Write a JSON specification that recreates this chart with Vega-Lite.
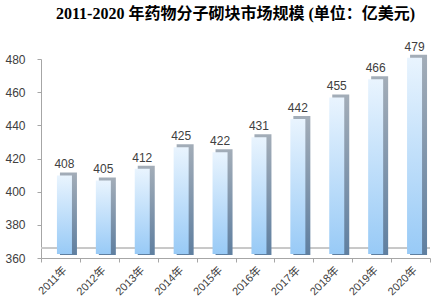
{
  "$schema": "https://vega.github.io/schema/vega-lite/v6.json",
  "width": 389,
  "height": 199,
  "autosize": {"type": "none"},
  "padding": {"left": 41, "top": 59, "right": 17, "bottom": 46},
  "background": "white",
  "title": {
    "text": "2011-2020 年药物分子砌块市场规模 (单位：亿美元)",
    "font": "Liberation Serif, Noto Sans CJK SC",
    "fontSize": 16,
    "fontWeight": "bold",
    "color": "#000000",
    "anchor": "middle",
    "frame": "group",
    "offset": 19
  },
  "config": {
    "view": {"stroke": null},
    "axis": {
      "labelFont": "Liberation Sans, Noto Sans CJK SC",
      "labelFontSize": 11,
      "labelColor": "#404040",
      "domainColor": "#a6a6a6",
      "tickColor": "#a6a6a6",
      "grid": false,
      "title": null
    }
  },
  "data": {
    "values": [
      {"year": "2011年", "value": 408},
      {"year": "2012年", "value": 405},
      {"year": "2013年", "value": 412},
      {"year": "2014年", "value": 425},
      {"year": "2015年", "value": 422},
      {"year": "2016年", "value": 431},
      {"year": "2017年", "value": 442},
      {"year": "2018年", "value": 455},
      {"year": "2019年", "value": 466},
      {"year": "2020年", "value": 479}
    ]
  },
  "layer": [
    {
      "mark": {"type": "rule", "yOffset": -10, "color": "#c8c8c8", "strokeWidth": 1},
      "encoding": {
        "y": {"datum": 360, "type": "quantitative",
          "scale": {"domain": [360, 480], "nice": false, "zero": false},
          "axis": {"values": [360, 380, 400, 420, 440, 460, 480], "labelOverlap": false, "tickSize": 4, "labelPadding": 12, "labelFontSize": 12}}
      }
    },
    {
      "mark": {
        "type": "bar",
        "width": 17,
        "xOffset": 8,
        "yOffset": -6,
        "y2Offset": -3,
        "color": {"gradient": "linear", "x1": 0, "y1": 0, "x2": 0, "y2": 1,
          "stops": [{"offset": 0, "color": "#a3adb8"}, {"offset": 1, "color": "#5f7fa0"}]}
      },
      "encoding": {
        "x": {
          "field": "year",
          "type": "nominal",
          "sort": null,
          "scale": {"paddingInner": 0, "paddingOuter": 0},
          "axis": {"labelAngle": -45, "tickBand": "extent", "tickSize": 4, "labelPadding": 2, "labelFontSize": 11}
        },
        "y": {"field": "value", "type": "quantitative",
          "scale": {"domain": [360, 480], "nice": false, "zero": false},
          "axis": {"values": [360, 380, 400, 420, 440, 460, 480], "labelOverlap": false, "tickSize": 4, "labelPadding": 12, "labelFontSize": 12}},
        "y2": {"datum": 360}
      }
    },
    {
      "mark": {
        "type": "bar",
        "width": 15,
        "xOffset": 4,
        "yOffset": -3,
        "y2Offset": -4,
        "color": {"gradient": "linear", "x1": 0, "y1": 0, "x2": 0, "y2": 1,
          "stops": [{"offset": 0, "color": "#e9f4fe"}, {"offset": 1, "color": "#98caf6"}]}
      },
      "encoding": {
        "x": {"field": "year", "type": "nominal", "sort": null},
        "y": {"field": "value", "type": "quantitative",
          "scale": {"domain": [360, 480], "nice": false, "zero": false},
          "axis": {"values": [360, 380, 400, 420, 440, 460, 480], "labelOverlap": false, "tickSize": 4, "labelPadding": 12, "labelFontSize": 12}},
        "y2": {"datum": 360}
      }
    },
    {
      "mark": {"type": "text", "dy": -14, "xOffset": 4, "font": "Liberation Sans", "fontSize": 12, "color": "#404040"},
      "encoding": {
        "x": {"field": "year", "type": "nominal", "sort": null},
        "y": {"field": "value", "type": "quantitative",
          "scale": {"domain": [360, 480], "nice": false, "zero": false},
          "axis": {"values": [360, 380, 400, 420, 440, 460, 480], "labelOverlap": false, "tickSize": 4, "labelPadding": 12, "labelFontSize": 12}},
        "text": {"field": "value", "type": "quantitative"}
      }
    }
  ]
}
